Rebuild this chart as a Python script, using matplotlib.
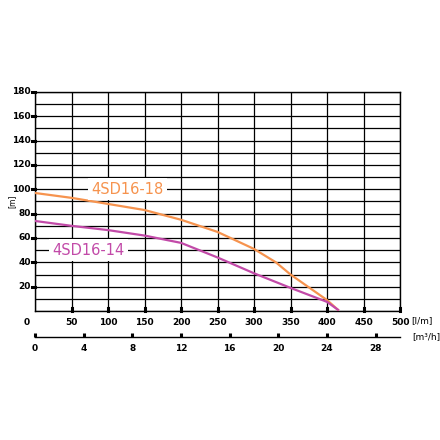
import matplotlib.pyplot as plt
import numpy as np

# flow [l/min] and head [m]
flow_18 = [0, 50, 100, 150, 200, 250, 300, 330, 350, 400, 415]
head_18 = [97, 93, 88, 83, 75, 65, 51, 40, 30, 9, 1]
flow_14 = [0, 50, 100, 150, 200, 250, 300, 350, 400, 415]
head_14 = [74, 70, 66.5, 62, 56, 44, 31, 19, 7.5, 1]

x_ticks = [50, 100, 150, 200, 250, 300, 350, 400, 450, 500]
y_ticks = [20, 40, 60, 80, 100, 120, 140, 160, 180]
m3h_ticks = [0, 4, 8, 12, 16, 20, 24, 28]

orange = "#f6934e"
purple = "#c24aa8"

fig = plt.figure(figsize=(4.4, 4.4), dpi=100)
ax = fig.add_axes([35 / 440, 1 - 311 / 440, 365 / 440, 219 / 440])

ax.set_xlim(0, 500)
ax.set_ylim(0, 180)
ax.set_xticks(np.arange(0, 501, 50))
ax.set_yticks(np.arange(0, 181, 10))
ax.grid(True, color="black", linewidth=0.9)
ax.tick_params(length=0, labelleft=False, labelbottom=False)
for s in ax.spines.values():
    s.set_linewidth(1.0)

ax.plot(flow_18, head_18, color=orange, linewidth=1.6, zorder=3)
ax.plot(flow_14, head_14, color=purple, linewidth=1.6, zorder=3)

# tick marks as little squares
for yv in y_ticks:
    ax.plot([-3.5, 0], [yv, yv], color="black", linewidth=2.2, clip_on=False)
    ax.text(-6, yv, str(yv), ha="right", va="center", fontsize=6.5,
            fontweight="bold")
for xv in x_ticks:
    ax.plot([xv, xv], [0, 2.5], color="black", linewidth=2.2, clip_on=False)
    ax.text(xv, -6, str(xv), ha="center", va="top", fontsize=6.5,
            fontweight="bold")
ax.text(-12, -6, "0", ha="center", va="top", fontsize=6.5, fontweight="bold")

ax.text(127, 100, "4SD16-18", color=orange, fontsize=10.5, ha="center",
        va="center", zorder=4,
        bbox=dict(facecolor="white", edgecolor="none", pad=2.5))
ax.text(73, 50, "4SD16-14", color=purple, fontsize=10.5, ha="center",
        va="center", zorder=4,
        bbox=dict(facecolor="white", edgecolor="none", pad=2.5))

ax.text(-31, 90, "[m]", rotation=90, ha="center", va="center", fontsize=5.5)
ax.text(1.03, -4, "[l/m]", transform=ax.get_yaxis_transform(), ha="left",
        va="top", fontsize=6.5)

# second axis in m3/h
ax2 = fig.add_axes([35 / 440, 1 - 337 / 440, 365 / 440, 0.0001])
ax2.set_xlim(0, 30)
ax2.set_ylim(0, 1)
for name in ["top", "left", "right"]:
    ax2.spines[name].set_visible(False)
ax2.spines["bottom"].set_linewidth(1.0)
ax2.set_yticks([])
ax2.set_xticks(m3h_ticks)
ax2.set_xticklabels([str(v) for v in m3h_ticks], fontsize=6.5,
                    fontweight="bold")
ax2.tick_params(axis="x", direction="in", length=3, width=2.2, pad=5)
ax2.text(31.0, 0, "[m³/h]", ha="left", va="center", fontsize=6.5)

fig.savefig("out.png", dpi=100)
